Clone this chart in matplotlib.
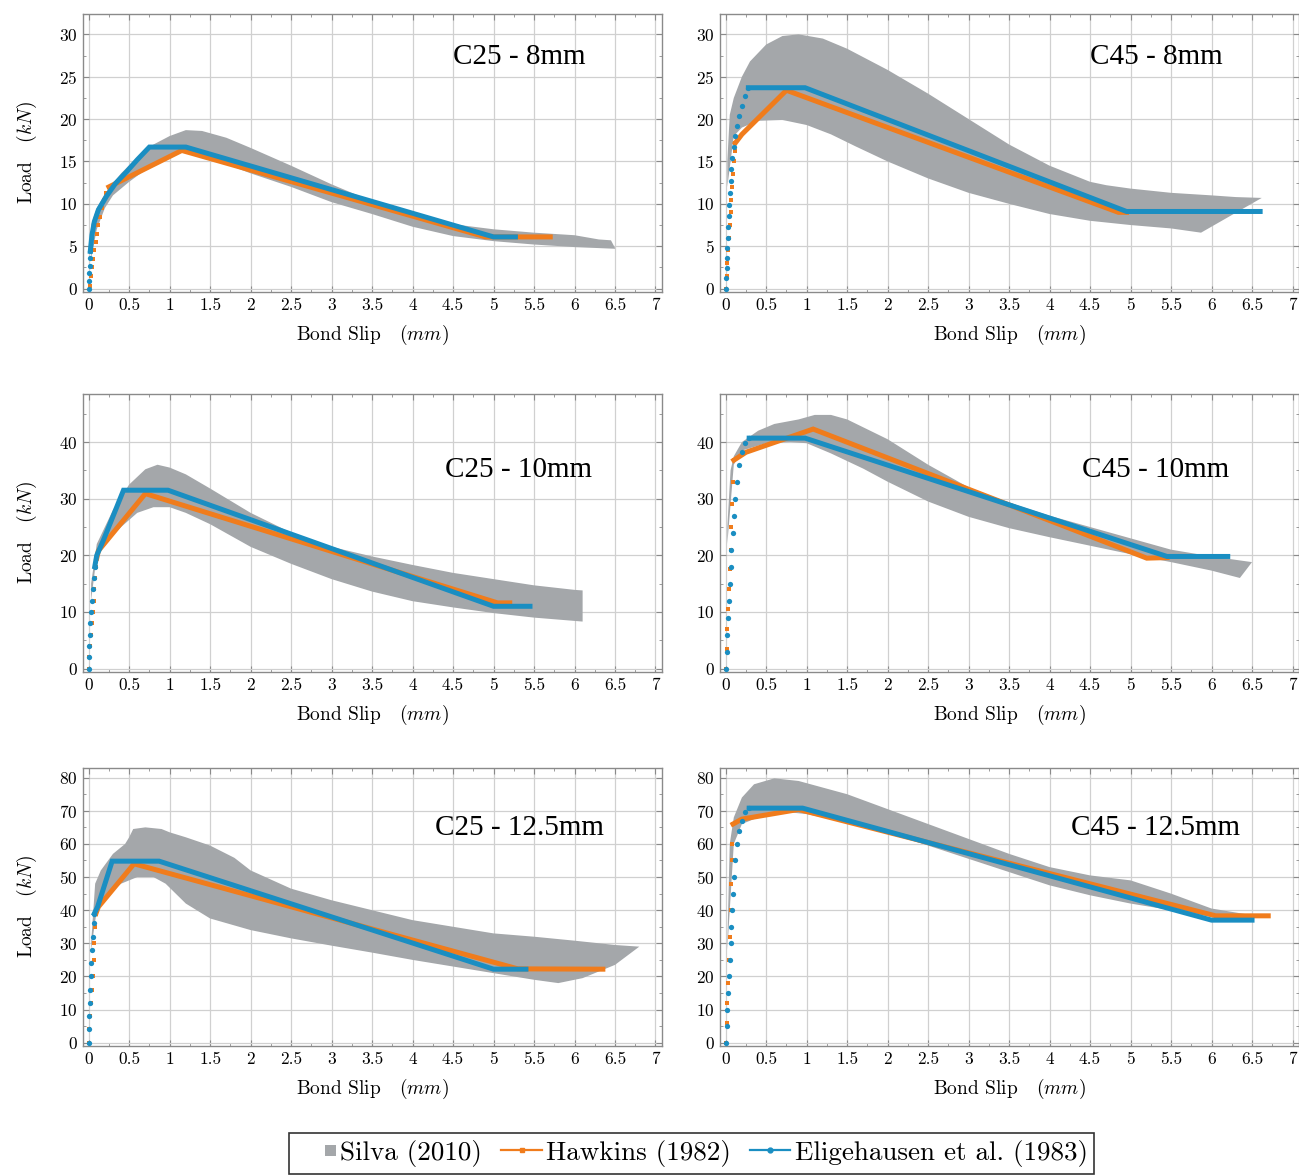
import matplotlib
matplotlib.use("Agg")
import matplotlib.pyplot as plt
from matplotlib.lines import Line2D
from matplotlib.patches import Rectangle
from matplotlib.ticker import MultipleLocator

plt.rcParams["font.family"] = ["cmr10", "DejaVu Serif"]
plt.rcParams["mathtext.fontset"] = "cm"
plt.rcParams["axes.formatter.use_mathtext"] = True

# ---------------------------------------------------------------------------
# data: (slip mm, load kN)
# ---------------------------------------------------------------------------
# C25 - 8mm
c25_8_silva_up = [(0.03, 7.5), (0.1, 9.5), (0.2, 11.2), (0.4, 13.6), (0.6, 15.5), (0.8, 17.0),
                  (1.0, 18.0), (1.2, 18.7), (1.4, 18.6), (1.7, 17.8), (2.0, 16.6), (2.5, 14.5),
                  (3.0, 12.3), (3.5, 10.3), (4.0, 8.7), (4.5, 7.6), (5.0, 7.0), (5.5, 6.6),
                  (6.0, 6.3), (6.3, 5.8), (6.45, 5.7), (6.5, 4.8)]
c25_8_silva_lo = [(0.03, 3.5), (0.1, 7.0), (0.2, 9.5), (0.3, 11.0), (0.5, 12.6), (0.7, 14.0),
                  (1.0, 15.6), (1.2, 16.2), (1.5, 15.4), (2.0, 13.6), (2.5, 12.0), (3.0, 10.2),
                  (3.5, 8.8), (4.0, 7.3), (4.5, 6.2), (5.0, 5.6), (5.5, 5.2), (6.0, 4.9), (6.5, 4.7)]
c25_8_hawk_dots = [(0.02, 0.3), (0.03, 1.5), (0.04, 2.5), (0.055, 3.5), (0.07, 4.5), (0.085, 5.5),
                   (0.1, 6.5), (0.12, 7.5), (0.14, 8.5), (0.16, 9.5), (0.19, 10.5), (0.22, 11.3),
                   (0.25, 12.0)]
c25_8_hawk_line = [(0.25, 12.0), (1.15, 16.3), (4.9, 6.1), (5.7, 6.1)]
c25_8_elig_dots = [(0.0, 0.0), (0.004, 0.9), (0.008, 1.8), (0.012, 2.7), (0.016, 3.6), (0.02, 4.4)]
c25_8_elig_line = [(0.02, 4.4), (0.04, 6.3), (0.07, 7.9), (0.12, 9.3), (0.22, 10.9), (0.33, 12.4),
                   (0.47, 13.8), (0.6, 15.2), (0.75, 16.7), (1.2, 16.7), (5.0, 6.1), (5.27, 6.1)]

# C45 - 8mm
c45_8_silva_up = [(0.02, 15.0), (0.05, 20.5), (0.1, 22.5), (0.2, 25.0), (0.3, 26.8), (0.5, 28.8),
                  (0.7, 29.8), (0.9, 30.0), (1.2, 29.5), (1.5, 28.3), (2.0, 25.8), (2.5, 23.0),
                  (3.0, 20.0), (3.5, 17.0), (4.0, 14.5), (4.5, 12.6), (4.7, 12.2), (5.0, 11.8),
                  (5.5, 11.3), (6.0, 11.0), (6.3, 10.8), (6.62, 10.7)]
c45_8_silva_lo = [(0.02, 12.0), (0.1, 18.0), (0.2, 19.0), (0.4, 19.8), (0.7, 19.9), (1.0, 19.3),
                  (1.3, 18.2), (1.6, 16.8), (2.0, 15.0), (2.5, 13.0), (3.0, 11.3), (3.5, 10.0),
                  (4.0, 8.8), (4.5, 8.0), (5.0, 7.5), (5.5, 7.1), (5.87, 6.6)]
c45_8_hawk_dots = [(0.0, 0.0), (0.01, 1.5), (0.02, 3.0), (0.03, 4.5), (0.04, 6.0), (0.05, 7.5),
                   (0.06, 9.0), (0.07, 10.5), (0.08, 12.0), (0.09, 13.5), (0.1, 15.0),
                   (0.11, 16.2), (0.12, 17.2)]
c45_8_hawk_line = [(0.12, 17.2), (0.2, 18.2), (0.75, 23.4), (4.85, 9.0), (4.95, 9.0)]
c45_8_elig_dots = [(0.0, 0.0), (0.005, 1.2), (0.01, 2.4), (0.015, 3.6), (0.02, 4.8), (0.025, 6.0),
                   (0.03, 7.3), (0.035, 8.6), (0.04, 9.9), (0.05, 11.3), (0.06, 12.7),
                   (0.07, 14.1), (0.08, 15.4), (0.1, 16.7), (0.12, 18.0), (0.14, 19.2),
                   (0.17, 20.4), (0.2, 21.6), (0.24, 22.7), (0.28, 23.7)]
c45_8_elig_line = [(0.28, 23.7), (0.98, 23.7), (4.95, 9.1), (6.6, 9.1)]

# C25 - 10mm
c25_10_silva_up = [(0.03, 15.0), (0.1, 22.0), (0.2, 25.0), (0.3, 28.0), (0.5, 32.5), (0.7, 35.2),
                   (0.85, 36.0), (1.0, 35.5), (1.2, 34.3), (1.5, 31.8), (2.0, 27.5), (2.5, 24.0),
                   (3.0, 21.5), (3.5, 19.8), (4.0, 18.3), (4.5, 16.9), (5.0, 15.8), (5.5, 14.7),
                   (6.0, 13.9), (6.1, 13.8)]
c25_10_silva_lo = [(0.03, 12.0), (0.1, 20.0), (0.2, 22.0), (0.4, 25.0), (0.6, 27.5), (0.8, 28.5),
                   (1.0, 28.5), (1.2, 27.5), (1.5, 25.5), (2.0, 21.5), (2.5, 18.5), (3.0, 15.8),
                   (3.5, 13.6), (4.0, 11.9), (4.5, 10.8), (5.0, 9.8), (5.5, 9.0), (6.1, 8.3)]
c25_10_hawk_dots = [(0.0, 0.0), (0.01, 2.0), (0.02, 4.0), (0.03, 6.0), (0.04, 8.0), (0.05, 10.0),
                    (0.06, 12.0), (0.07, 14.0), (0.08, 16.0), (0.09, 18.0), (0.1, 19.5)]
c25_10_hawk_line = [(0.1, 19.5), (0.12, 20.8), (0.7, 30.9), (5.05, 11.6), (5.2, 11.6)]
c25_10_elig_dots = [(0.0, 0.0), (0.005, 2.0), (0.01, 4.0), (0.015, 6.0), (0.02, 8.0), (0.03, 10.0),
                    (0.04, 12.0), (0.05, 14.0), (0.06, 16.0), (0.075, 18.0)]
c25_10_elig_line = [(0.075, 18.0), (0.1, 20.0), (0.18, 22.6), (0.43, 31.5), (0.98, 31.5),
                    (5.0, 11.0), (5.45, 11.0)]

# C45 - 10mm
c45_10_silva_up = [(0.02, 25.0), (0.06, 35.0), (0.1, 37.5), (0.2, 40.0), (0.4, 42.0), (0.6, 43.2),
                   (0.9, 44.0), (1.1, 44.8), (1.3, 44.8), (1.5, 44.0), (2.0, 40.5), (2.5, 36.0),
                   (3.0, 32.0), (3.5, 29.3), (4.0, 27.0), (4.5, 25.0), (5.0, 23.0), (5.5, 21.0),
                   (6.0, 19.8), (6.5, 18.8)]
c45_10_silva_lo = [(0.02, 22.0), (0.1, 36.0), (0.2, 38.5), (0.5, 39.8), (0.8, 40.0), (1.0, 39.8),
                   (1.3, 38.0), (1.7, 35.3), (2.0, 33.0), (2.5, 29.5), (3.0, 26.8), (3.5, 24.8),
                   (4.0, 23.2), (4.5, 21.7), (5.0, 20.2), (5.5, 18.8), (6.0, 17.3), (6.35, 16.0)]
c45_10_hawk_dots = [(0.0, 0.0), (0.01, 3.5), (0.02, 7.0), (0.03, 10.5), (0.04, 14.0), (0.05, 17.5),
                    (0.06, 21.0), (0.07, 25.0), (0.08, 29.0), (0.09, 33.0), (0.1, 36.8)]
c45_10_hawk_line = [(0.1, 36.8), (0.25, 38.2), (1.08, 42.3), (5.2, 19.5), (5.45, 19.6)]
c45_10_elig_dots = [(0.0, 0.0), (0.01, 3.0), (0.02, 6.0), (0.03, 9.0), (0.04, 12.0), (0.05, 15.0),
                    (0.06, 18.0), (0.07, 21.0), (0.085, 24.0), (0.1, 27.0), (0.12, 30.0),
                    (0.14, 33.0), (0.17, 36.0), (0.2, 38.3), (0.24, 39.8), (0.29, 40.7)]
c45_10_elig_line = [(0.29, 40.7), (0.98, 40.7), (5.45, 19.8), (6.2, 19.8)]

# C25 - 12.5mm
c25_12_silva_up = [(0.03, 30.0), (0.08, 48.0), (0.15, 52.0), (0.3, 57.0), (0.45, 60.0),
                   (0.5, 62.0), (0.55, 64.5), (0.7, 65.0), (0.9, 64.5), (1.0, 63.5), (1.2, 62.0),
                   (1.5, 59.5), (1.8, 55.8), (2.0, 52.0), (2.5, 46.5), (3.0, 43.0), (3.5, 40.0),
                   (4.0, 37.0), (4.5, 35.0), (5.0, 33.0), (5.5, 32.0), (6.0, 30.8), (6.5, 29.5),
                   (6.8, 29.0)]
c25_12_silva_lo = [(0.03, 28.0), (0.1, 40.0), (0.2, 44.0), (0.4, 48.0), (0.6, 50.0), (0.8, 50.0),
                   (0.95, 48.0), (1.2, 42.0), (1.5, 37.5), (2.0, 34.0), (2.5, 31.5), (3.0, 29.3),
                   (3.5, 27.2), (4.0, 25.0), (4.5, 23.0), (5.0, 21.0), (5.5, 19.0), (5.8, 18.0),
                   (6.1, 19.5), (6.5, 23.5), (6.8, 29.0)]
c25_12_hawk_dots = [(0.0, 0.0), (0.01, 4.0), (0.02, 8.0), (0.03, 12.0), (0.04, 16.0), (0.05, 20.0),
                    (0.06, 25.0), (0.07, 30.0), (0.08, 35.0), (0.09, 39.0)]
c25_12_hawk_line = [(0.09, 39.0), (0.12, 41.0), (0.56, 54.0), (5.3, 22.3), (6.35, 22.2)]
c25_12_elig_dots = [(0.0, 0.0), (0.005, 4.0), (0.01, 8.0), (0.015, 12.0), (0.02, 16.0),
                    (0.025, 20.0), (0.03, 24.0), (0.04, 28.0), (0.05, 32.0), (0.06, 36.0),
                    (0.07, 39.0)]
c25_12_elig_line = [(0.07, 39.0), (0.11, 41.0), (0.29, 54.8), (0.87, 54.8), (5.0, 22.2), (5.4, 22.2)]

# C45 - 12.5mm
c45_12_silva_up = [(0.02, 30.0), (0.05, 60.0), (0.1, 68.0), (0.2, 74.0), (0.35, 78.0), (0.6, 79.8),
                   (0.9, 79.0), (1.5, 75.0), (2.0, 70.5), (2.5, 66.0), (3.0, 61.5), (3.5, 57.0),
                   (4.0, 53.0), (4.5, 50.5), (5.0, 49.0), (5.5, 45.0), (6.0, 40.5), (6.5, 38.5)]
c45_12_silva_lo = [(0.02, 28.0), (0.1, 60.0), (0.2, 66.0), (0.4, 68.0), (0.8, 69.5), (1.0, 69.0),
                   (1.5, 66.5), (2.0, 63.5), (2.5, 59.5), (3.0, 55.5), (3.5, 51.5), (4.0, 47.5),
                   (4.5, 44.5), (5.0, 42.0), (5.5, 40.0), (6.0, 38.0), (6.5, 37.5)]
c45_12_hawk_dots = [(0.0, 0.0), (0.01, 6.0), (0.02, 12.0), (0.03, 18.0), (0.04, 25.0), (0.05, 32.0),
                    (0.06, 40.0), (0.07, 48.0), (0.075, 55.0), (0.08, 60.0), (0.09, 66.0)]
c45_12_hawk_line = [(0.09, 66.0), (0.2, 67.5), (0.9, 70.4), (6.05, 38.3), (6.7, 38.3)]
c45_12_elig_dots = [(0.0, 0.0), (0.01, 5.0), (0.02, 10.0), (0.03, 15.0), (0.04, 20.0), (0.05, 25.0),
                    (0.06, 30.0), (0.07, 35.0), (0.08, 40.0), (0.09, 45.0), (0.1, 50.0),
                    (0.12, 55.0), (0.14, 60.0), (0.17, 64.0), (0.2, 67.0), (0.24, 69.5),
                    (0.29, 70.8)]
c45_12_elig_line = [(0.29, 70.8), (0.95, 70.8), (6.0, 37.0), (6.5, 37.0)]

titles = ["C25 - 8mm", "C45 - 8mm", "C25 - 10mm", "C45 - 10mm", "C25 - 12.5mm", "C45 - 12.5mm"]
y_ticks = [[0, 5, 10, 15, 20, 25, 30], [0, 10, 20, 30, 40], [0, 10, 20, 30, 40, 50, 60, 70, 80]]
x_ticks = [0, 0.5, 1, 1.5, 2, 2.5, 3, 3.5, 4, 4.5, 5, 5.5, 6, 6.5, 7]
legend_labels = ["Silva (2010)", "Hawkins (1982)", "Eligehausen et al. (1983)"]

panels = [
    (c25_8_silva_up, c25_8_silva_lo, c25_8_hawk_dots, c25_8_hawk_line, c25_8_elig_dots, c25_8_elig_line),
    (c45_8_silva_up, c45_8_silva_lo, c45_8_hawk_dots, c45_8_hawk_line, c45_8_elig_dots, c45_8_elig_line),
    (c25_10_silva_up, c25_10_silva_lo, c25_10_hawk_dots, c25_10_hawk_line, c25_10_elig_dots, c25_10_elig_line),
    (c45_10_silva_up, c45_10_silva_lo, c45_10_hawk_dots, c45_10_hawk_line, c45_10_elig_dots, c45_10_elig_line),
    (c25_12_silva_up, c25_12_silva_lo, c25_12_hawk_dots, c25_12_hawk_line, c25_12_elig_dots, c25_12_elig_line),
    (c45_12_silva_up, c45_12_silva_lo, c45_12_hawk_dots, c45_12_hawk_line, c45_12_elig_dots, c45_12_elig_line),
]

GRAY = "#a4a7aa"
ORANGE = "#f07c1c"
BLUE = "#1a8ec2"
FRAME = "#8a8a8a"

# layout (figure fractions)
row_bottoms = [0.7517, 0.4286, 0.1105]
col_lefts = [0.0639, 0.5543]
W, H = 0.4457, 0.2364
ylims = [(-0.4, 32.4), (-0.6, 48.5), (-1.0, 82.9)]
y_minor = [2.5, 5, 5]
title_y = [0.845, 0.727, 0.784]


def xy(pts):
    return [p[0] for p in pts], [p[1] for p in pts]


class SquareAtRight:
    """legend handler: small grey square sitting right next to the label"""

    def legend_artist(self, legend, orig_handle, fontsize, handlebox):
        s = 0.42 * fontsize
        x0 = handlebox.xdescent + handlebox.width - s
        y0 = handlebox.ydescent + (handlebox.height - s) / 2
        patch = Rectangle((x0, y0), s, s, color=orig_handle.get_facecolor(), lw=0,
                          transform=handlebox.get_transform())
        handlebox.add_artist(patch)
        return patch


fig = plt.figure(figsize=(12.99, 11.76), dpi=100)

for i, (up, lo, h_dots, h_line, e_dots, e_line) in enumerate(panels):
    row, col = divmod(i, 2)
    ax = fig.add_axes([col_lefts[col], row_bottoms[row], W, H])

    ux, uy = xy(up)
    lx, ly = xy(lo)
    ax.fill(ux + lx[::-1], uy + ly[::-1], color=GRAY, lw=0, zorder=2)

    x, y = xy(h_line)
    ax.plot(x, y, color=ORANGE, lw=3.6, solid_joinstyle="miter", zorder=3)
    x, y = xy(h_dots)
    ax.plot(x, y, ls="none", marker="s", ms=3.4, mew=0, color=ORANGE, zorder=3)

    x, y = xy(e_line)
    ax.plot(x, y, color=BLUE, lw=3.6, solid_joinstyle="miter", zorder=4)
    x, y = xy(e_dots)
    ax.plot(x, y, ls="none", marker="o", ms=3.8, mew=0, color=BLUE, zorder=4)

    ax.set_xlim(-0.07, 7.08)
    ax.set_ylim(*ylims[row])
    ax.set_xticks(x_ticks)
    ax.set_xticklabels([f"{t:g}" for t in x_ticks])
    ax.set_yticks(y_ticks[row])
    ax.xaxis.set_minor_locator(MultipleLocator(0.25))
    ax.yaxis.set_minor_locator(MultipleLocator(y_minor[row]))
    ax.grid(True, which="major", color="#d0d0d0", lw=0.9, zorder=0)
    ax.set_axisbelow(True)
    ax.tick_params(which="both", direction="in", top=True, right=True, color=FRAME)
    ax.tick_params(which="major", length=4, labelsize=12.5, pad=4)
    ax.tick_params(which="minor", length=2.5)
    for s in ax.spines.values():
        s.set_color(FRAME)
        s.set_linewidth(1.0)

    ax.set_xlabel(r"Bond Slip   ($mm$)", fontsize=14, labelpad=7)
    if col == 0:
        ax.set_ylabel(r"Load   ($kN$)", fontsize=14, labelpad=14)

    ax.text(0.753, title_y[row], titles[i], transform=ax.transAxes, ha="center", va="center",
            fontsize=21, family="Liberation Serif", zorder=5)

handles = [
    Rectangle((0, 0), 1, 1, color=GRAY),
    Line2D([], [], color=ORANGE, lw=1.6, marker="s", ms=3.5),
    Line2D([], [], color=BLUE, lw=1.6, marker="o", ms=3.5),
]
leg = fig.legend(handles, legend_labels, loc="upper left", bbox_to_anchor=(0.2225, 0.0366),
                 ncol=3, fontsize=19.5, frameon=True, fancybox=False, edgecolor="black",
                 handlelength=1.5, handletextpad=0.15, columnspacing=0.7, borderpad=0.25,
                 borderaxespad=0, handler_map={Rectangle: SquareAtRight()})
leg.get_frame().set_linewidth(1.2)

fig.savefig("out.png", dpi=100)
